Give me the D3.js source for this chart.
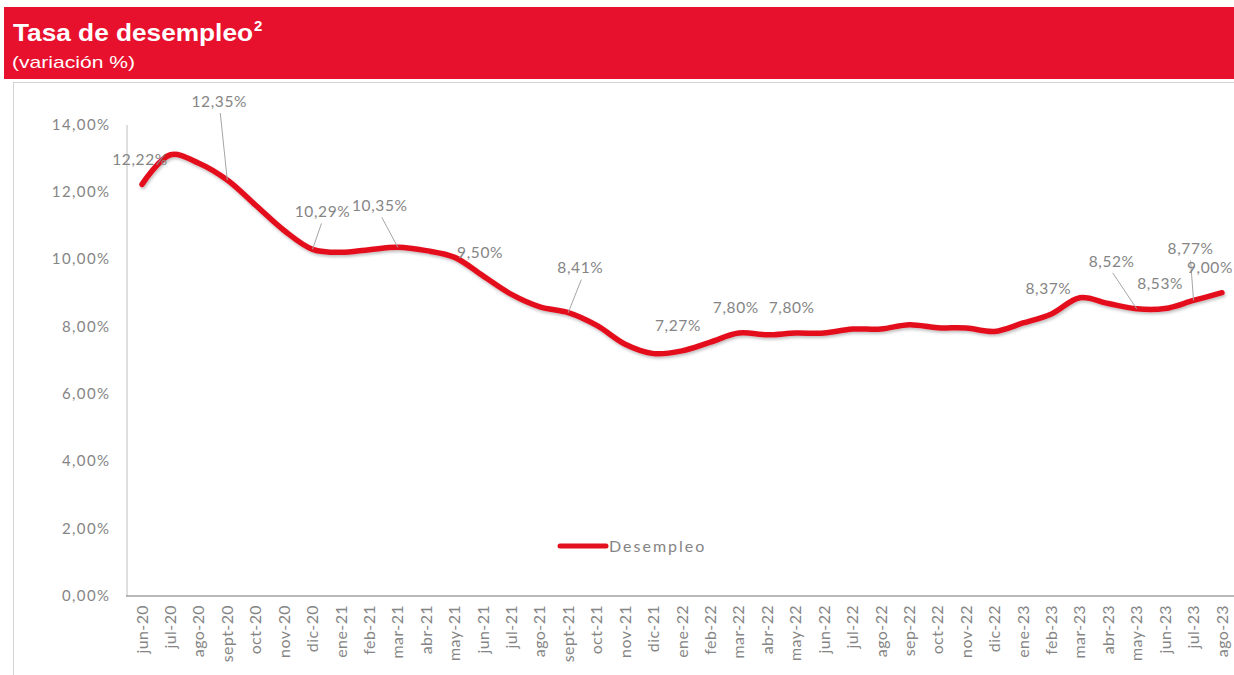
<!DOCTYPE html>
<html>
<head>
<meta charset="utf-8">
<script src="https://cdn.jsdelivr.net/npm/d3@7"></script>
<style>
  body { margin: 0; background: #fff; }
  svg { display: block; }
  .tick-lbl { font-family: Lato, "Open Sans", sans-serif; fill: #858585; }
</style>
</head>
<body>
<svg id="chart" width="1234" height="675"></svg>
<script>
// months on the x axis
const months = [
  "jun-20", "jul-20", "ago-20", "sept-20", "oct-20", "nov-20", "dic-20",
  "ene-21", "feb-21", "mar-21", "abr-21", "may-21", "jun-21", "jul-21",
  "ago-21", "sept-21", "oct-21", "nov-21", "dic-21",
  "ene-22", "feb-22", "mar-22", "abr-22", "may-22", "jun-22", "jul-22",
  "ago-22", "sep-22", "oct-22", "nov-22", "dic-22",
  "ene-23", "feb-23", "mar-23", "abr-23", "may-23", "jun-23", "jul-23", "ago-23",
];
// unemployment rate, %
const desempleo = [
  12.22, 13.1, 12.85, 12.35, 11.6, 10.85, 10.29,
  10.2, 10.28, 10.35, 10.25, 10.05, 9.5, 8.95,
  8.58, 8.41, 8.03, 7.47, 7.19,
  7.27, 7.53, 7.8, 7.75, 7.8, 7.8, 7.92,
  7.92, 8.05, 7.96, 7.95, 7.85,
  8.1, 8.37, 8.85, 8.68, 8.52, 8.53, 8.77, 9.0,
];
const yTicks = [0, 2, 4, 6, 8, 10, 12, 14];
// months that carry a data label
const labelled = ["jun-20", "sept-20", "dic-20", "mar-21", "jun-21", "sept-21",
  "ene-22", "mar-22", "may-22", "feb-23", "may-23", "jun-23", "jul-23", "ago-23"];

// label placement (offset from point, optional leader line start)
const place = {
  "jun-20": { dx: -2, dy: -19 },
  "sept-20": { dx: -8, dy: -73, lead: [1, 6] },
  "dic-20": { dx: 10, dy: -32, lead: [-1, 6] },
  "mar-21": { dx: -18, dy: -36, lead: [2, 6] },
  "jun-21": { dx: -3, dy: -18 },
  "sept-21": { dx: 12, dy: -40, lead: [1, 7] },
  "ene-22": { dx: -4, dy: -20 },
  "mar-22": { dx: -3, dy: -20 },
  "may-22": { dx: -4, dy: -20 },
  "feb-23": { dx: -3, dy: -20 },
  "may-23": { dx: -25, dy: -42, lead: [1, 6] },
  "jun-23": { dx: -5, dy: -20 },
  "jul-23": { dx: -3, dy: -46, lead: [0, 6] },
  "ago-23": { dx: -12, dy: -20 },
};

const fmt = v => d3.format(".2f")(v).replace(".", ",") + "%";

const svg = d3.select("#chart");

// header band
svg.append("rect").attr("x", 4).attr("y", 7).attr("width", 1240).attr("height", 72)
  .attr("fill", "#e8112d");
svg.append("text").attr("x", 13).attr("y", 41)
  .attr("font-family", "Liberation Sans, Arial, sans-serif")
  .attr("font-weight", "bold").attr("font-size", 24).attr("fill", "#fff")
  .attr("textLength", 240).attr("lengthAdjust", "spacingAndGlyphs")
  .text("Tasa de desempleo");
svg.append("text").attr("x", 254).attr("y", 31)
  .attr("font-family", "Liberation Sans, Arial, sans-serif")
  .attr("font-weight", "bold").attr("font-size", 15).attr("fill", "#fff")
  .text("2");
svg.append("text").attr("x", 12).attr("y", 68)
  .attr("font-family", "Liberation Sans, Arial, sans-serif")
  .attr("font-size", 17).attr("fill", "#fff")
  .attr("textLength", 123).attr("lengthAdjust", "spacingAndGlyphs")
  .text("(variación %)");

// chart frame
svg.append("rect").attr("x", 13.5).attr("y", 82.5).attr("width", 1240).attr("height", 620)
  .attr("fill", "none").attr("stroke", "#d4d4d4");

const x = d3.scaleBand().domain(months).range([127.8, 127.8 + 39 * 28.42]).padding(0);
const cx = m => x(m) + x.bandwidth() / 2;
const y = d3.scaleLinear().domain([0, 14]).range([595.5, 124.5]);

// axes
const yAxis = svg.append("g").attr("transform", "translate(126.5,0)")
  .call(d3.axisLeft(y).tickValues(yTicks).tickSize(0).tickPadding(16).tickFormat(fmt));
yAxis.select(".domain").attr("stroke", "#bfbfbf");
yAxis.selectAll("text").attr("class", "tick-lbl").attr("font-size", 15)
  .attr("letter-spacing", 1.4);

const xAxis = svg.append("g").attr("transform", "translate(0,596)")
  .call(d3.axisBottom(x).tickSize(0).tickPadding(0));
xAxis.select(".domain").attr("stroke", "#a0a0a0").attr("stroke-width", 1.5)
  .attr("d", "M126,0H1240");
xAxis.selectAll("text").attr("class", "tick-lbl").attr("font-size", 16)
  .attr("letter-spacing", 0.4)
  .attr("text-anchor", "end").attr("transform", "rotate(-90)")
  .attr("x", -9).attr("y", 0).attr("dy", "0.35em");

// shadow for the line
const defs = svg.append("defs");
const f = defs.append("filter").attr("id", "shd").attr("x", "-5%").attr("y", "-20%")
  .attr("width", "110%").attr("height", "140%");
f.append("feDropShadow").attr("dx", 1).attr("dy", 2).attr("stdDeviation", 1.5)
  .attr("flood-color", "#000").attr("flood-opacity", 0.25);

const pts = months.map((m, i) => ({ m, v: desempleo[i] }));
const line = d3.line().x(d => cx(d.m)).y(d => y(d.v)).curve(d3.curveCatmullRom.alpha(0.5));
svg.append("path").datum(pts).attr("d", line)
  .attr("fill", "none").attr("stroke", "#e3101f").attr("stroke-width", 5.5)
  .attr("stroke-linecap", "round").attr("stroke-linejoin", "round")
  .attr("filter", "url(#shd)");

// data labels
const lab = svg.append("g");
labelled.forEach(m => {
  const i = months.indexOf(m);
  const p = place[m];
  const px = cx(m), py = y(desempleo[i]);
  const lx = px + p.dx, ly = py + p.dy;
  if (p.lead) {
    lab.append("line").attr("x1", lx + p.lead[0]).attr("y1", ly + p.lead[1])
      .attr("x2", px).attr("y2", py).attr("stroke", "#a6a6a6").attr("stroke-width", 1);
  }
  lab.append("text").attr("class", "tick-lbl").attr("x", lx).attr("y", ly)
    .attr("text-anchor", "middle").attr("font-size", 15.5).attr("letter-spacing", 0.6)
    .text(fmt(desempleo[i]));
});

// legend
const lg = svg.append("g").attr("transform", "translate(560,546)");
lg.append("line").attr("x1", 0).attr("x2", 46).attr("stroke", "#e3101f")
  .attr("stroke-width", 5).attr("stroke-linecap", "round");
lg.append("text").attr("class", "tick-lbl").attr("x", 49).attr("dy", "0.35em")
  .attr("font-size", 16).attr("letter-spacing", 2).text("Desempleo");
</script>
</body>
</html>
